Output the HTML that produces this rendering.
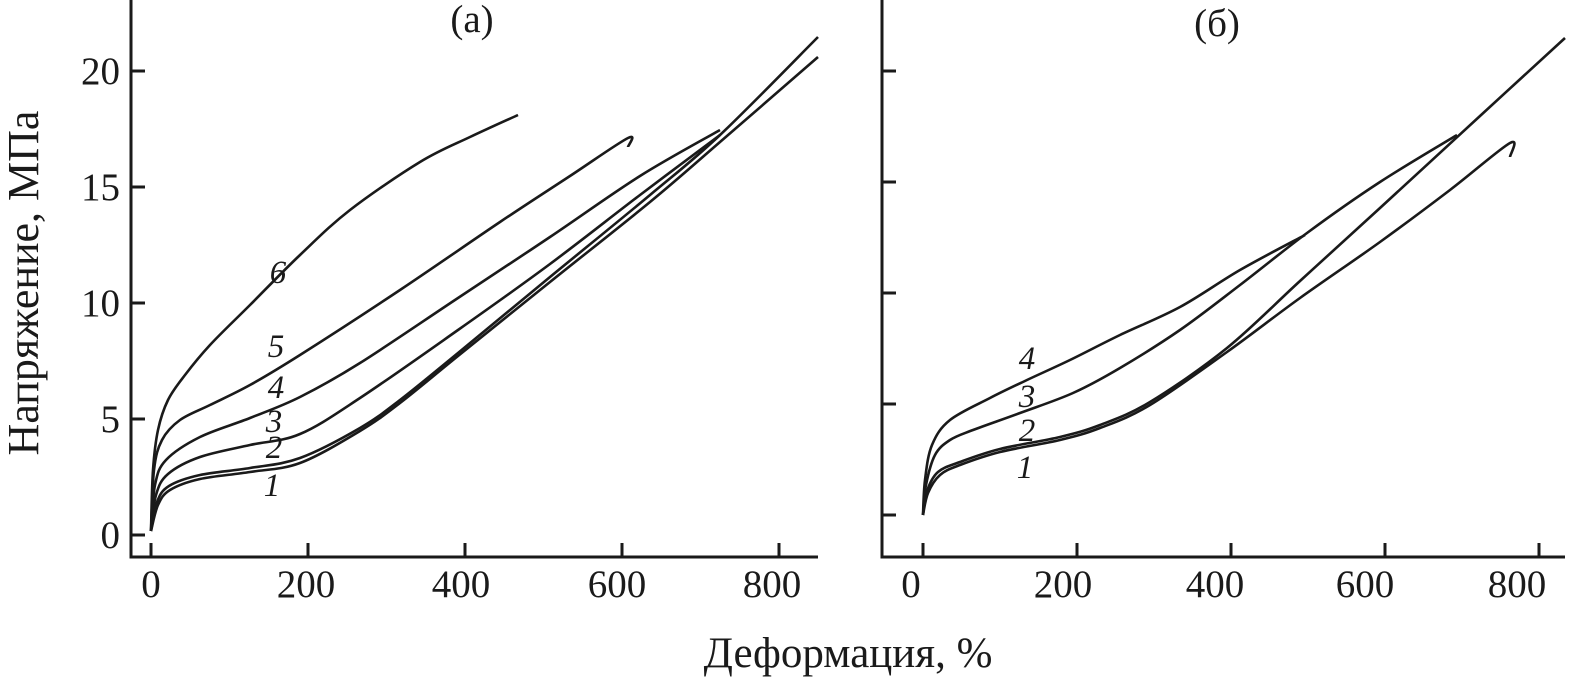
<!DOCTYPE html>
<html><head><meta charset="utf-8"><style>
html,body{margin:0;padding:0;background:#fff;}
svg{display:block;font-family:"Liberation Serif",serif;}
</style></head><body>
<svg id="s" width="1591" height="685" viewBox="0 0 1591 685" xmlns="http://www.w3.org/2000/svg">
<g stroke="#1a1a1a" stroke-width="3" fill="none">
<path d="M131 0 V557 H818"/>
<path d="M131 535 h14 M131 419 h14 M131 303 h14 M131 187 h14 M131 71 h14"/>
<path d="M151 557 v-14 M308 557 v-14 M465 557 v-14 M622 557 v-14 M779 557 v-14"/>
<path d="M882 0 V557 H1565"/>
<path d="M882 515 h14 M882 404 h14 M882 293 h14 M882 182 h14 M882 71 h14"/>
<path d="M923 557 v-14 M1077 557 v-14 M1231 557 v-14 M1385 557 v-14 M1539 557 v-14"/>
</g>
<g id="curves" stroke="#1a1a1a" stroke-width="2.6" fill="none"></g>
<g font-size="39" fill="#1a1a1a" text-anchor="end">
<text x="120" y="548">0</text><text x="120" y="432">5</text><text x="120" y="316">10</text><text x="120" y="200">15</text><text x="120" y="84">20</text>
</g>
<g font-size="39" fill="#1a1a1a" text-anchor="middle">
<text x="151" y="597">0</text><text x="306" y="597">200</text><text x="461" y="597">400</text><text x="617" y="597">600</text><text x="772" y="597">800</text>
<text x="911" y="597">0</text><text x="1063" y="597">200</text><text x="1215" y="597">400</text><text x="1365" y="597">600</text><text x="1517" y="597">800</text>
<text x="472" y="32">(а)</text><text x="1217" y="36">(б)</text>
<text x="848" y="667" font-size="43">Деформация, %</text>
<text transform="translate(38,283) rotate(-90)" font-size="44">Напряжение, МПа</text>
</g>
<g font-size="33" font-style="italic" fill="#1a1a1a" text-anchor="middle">
<text x="272" y="496">1</text><text x="274" y="458">2</text><text x="274" y="432">3</text><text x="276" y="398">4</text><text x="276" y="357">5</text><text x="278" y="283">6</text>
<text x="1025" y="478">1</text><text x="1027" y="441">2</text><text x="1027" y="407">3</text><text x="1027" y="369">4</text>
</g>
</svg>
<script>
function cr(p){var d="M"+p[0][0]+" "+p[0][1];for(var i=0;i<p.length-1;i++){var a=p[Math.max(i-1,0)],b=p[i],c=p[i+1],e=p[Math.min(i+2,p.length-1)];
var c1=[b[0]+(c[0]-a[0])/6,b[1]+(c[1]-a[1])/6],c2=[c[0]-(e[0]-b[0])/6,c[1]-(e[1]-b[1])/6];
d+=" C"+c1[0].toFixed(1)+" "+c1[1].toFixed(1)+" "+c2[0].toFixed(1)+" "+c2[1].toFixed(1)+" "+c[0]+" "+c[1];}return d;}
var C=[
[[151,531],[158,505],[170,490],[200,479],[250,472],[300,463],[360,431],[400,403],[458,356],[550,282],[650,202],[720,142],[818,57]],
[[151,531],[157,502],[169,486],[200,475],[250,468],[300,458],[360,428],[400,400],[458,353],[550,277],[650,195],[720,135],[818,37]],
[[151,531],[156,495],[168,474],[200,457],[250,445],[300,434],[360,398],[458,330],[550,264],[640,195],[720,135]],
[[151,531],[155,485],[166,460],[200,437],[250,418],[300,397],[360,363],[458,298],[550,237],[640,176],[720,130]],
[[151,531],[154,470],[162,440],[180,420],[210,405],[250,385],[300,355],[400,290],[500,222],[570,176],[628,138],[628,147]],
[[151,531],[153,470],[158,430],[168,400],[185,375],[210,345],[250,305],[300,255],[350,210],[420,162],[470,137],[518,115]],
[[923,515],[928,493],[940,475],[960,465],[1000,452],[1060,440],[1100,428],[1150,405],[1227,352],[1300,298],[1380,242],[1450,190],[1510,143],[1510,157]],
[[923,515],[927,491],[938,472],[960,462],[1000,449],[1060,437],[1100,425],[1150,402],[1227,348],[1300,281],[1380,208],[1480,116],[1565,38]],
[[923,515],[926,485],[935,455],[950,440],[973,430],[1020,413],[1073,393],[1120,368],[1180,330],[1240,285],[1307,233],[1380,182],[1457,135]],
[[923,515],[925,480],[932,445],[950,420],[990,398],[1027,380],[1070,360],[1120,335],[1180,307],[1240,270],[1305,235]]
];
var g=document.getElementById("curves"),h="";C.forEach(function(p){h+='<path d="'+cr(p)+'"/>';});g.innerHTML=h;
</script>
</body></html>
